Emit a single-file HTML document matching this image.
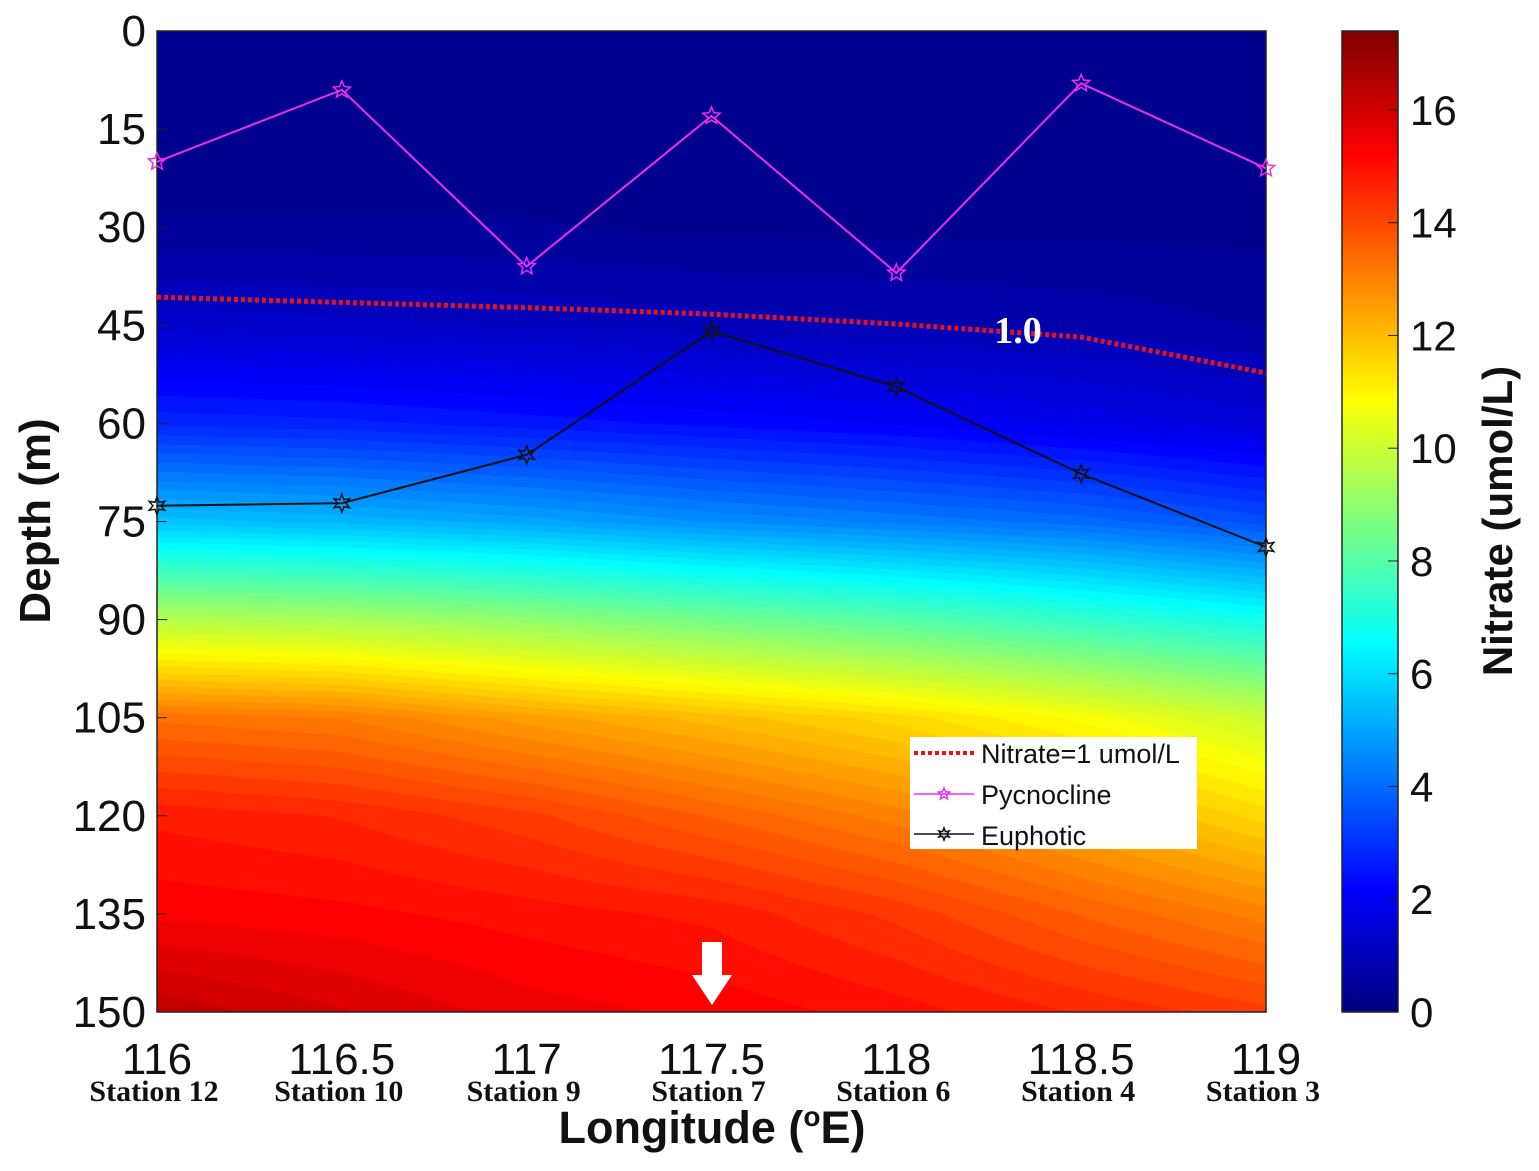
<!DOCTYPE html>
<html><head><meta charset="utf-8">
<style>
body{margin:0;background:#fff;width:1539px;height:1171px;overflow:hidden;position:relative;font-family:"Liberation Sans",sans-serif}
canvas{position:absolute}
</style></head><body>
<canvas id="field" width="1109" height="981" style="left:157px;top:31px"></canvas>
<canvas id="cbar" width="56" height="981" style="left:1342px;top:31px"></canvas>
<svg id="ov" width="1539" height="1171" style="position:absolute;left:0;top:0"></svg>
<script>
const lons=[116,116.5,117,117.5,118,118.5,119];
const depths=[0,15,30,45,60,75,90,105,120,135,150];
const n116=[0.2,0.2,0.4,1.3,2.8,5.5,9.6,13.3,14.8,15.3,16.3];
const n1165=[0.2,0.2,0.4,1.2,2.7,5.3,9.4,13.1,14.6,15.2,15.9];
const n117=[0.2,0.2,0.4,1.1,2.5,5.0,9.0,12.5,14.2,15.0,15.5];
const n1175=[0.2,0.2,0.3,1.0,2.3,4.6,8.5,12.0,13.6,14.8,15.3];
const n118=[0.2,0.2,0.3,0.9,2.1,4.3,8.0,11.5,13.0,14.3,15.0];
const n1185=[0.2,0.2,0.3,0.8,1.8,4.0,7.4,10.8,12.3,13.6,14.6];
const n119=[0.2,0.2,0.3,0.6,1.5,3.5,6.8,10.0,11.5,13.0,14.2];
const pycno=[20,9,36,13,37,8,21];
const eupho=[72.6,72.2,64.8,45.9,54.4,67.7,78.9];
const nit1=[40.7,41.5,42.3,43.3,44.8,46.8,52.3];
const yTicks=[0,15,30,45,60,75,90,105,120,135,150];
const xTicks=[116,116.5,117,117.5,118,118.5,119];
const stations=["Station 12","Station 10","Station 9","Station 7","Station 6","Station 4","Station 3"];
const cTicks=[0,2,4,6,8,10,12,14,16];
const grid=[n116,n1165,n117,n1175,n118,n1185,n119];
const X0=157,X1=1266,Y0=31,Y1=1012,VMAX=17.4;
const xs=v=>X0+(v-116)/3*(X1-X0);
const ys=d=>Y0+d/150*(Y1-Y0);
function jet(v){let t=Math.max(0,Math.min(1,v/VMAX));
 const f=x=>Math.max(0,Math.min(1,1.5-Math.abs(4*t-x)));
 return [f(3),f(2),f(1)].map(c=>Math.round(c*255));}
function interp(lon,d){let i=Math.min(5,Math.floor((lon-116)/0.5));let fx=(lon-116)/0.5-i;
 let j=Math.min(9,Math.floor(d/15));let fy=d/15-j;
 const a=grid[i][j]*(1-fx)+grid[i+1][j]*fx,b=grid[i][j+1]*(1-fx)+grid[i+1][j+1]*fx;
 return a*(1-fy)+b*fy;}
const fc=document.getElementById('field').getContext('2d');
const img=fc.createImageData(1109,981);
for(let py=0;py<981;py++){for(let px=0;px<1109;px++){
 const lon=116+px/1108*3,d=py/980*150;let v=interp(lon,d);v=Math.round(v*4)/4;
 const c=jet(v);const k=(py*1109+px)*4;img.data[k]=c[0];img.data[k+1]=c[1];img.data[k+2]=c[2];img.data[k+3]=255;}}
fc.putImageData(img,0,0);
const cc=document.getElementById('cbar').getContext('2d');
for(let py=0;py<981;py++){const v=(980-py)/980*VMAX;const c=jet(v);cc.fillStyle=`rgb(${c})`;cc.fillRect(0,py,56,1);}
const svg=document.getElementById('ov');const NS='http://www.w3.org/2000/svg';
function mk(tag,at,txt){const e=document.createElementNS(NS,tag);for(const k in at)e.setAttribute(k,at[k]);if(txt!=null)e.textContent=txt;svg.appendChild(e);return e;}
let e;
e=mk('rect',{x:X0,y:Y0,width:X1-X0,height:Y1-Y0,fill:'none',stroke:'#222','stroke-width':1.5});


e=mk('rect',{x:1342,y:31,width:56,height:981,fill:'none',stroke:'#222','stroke-width':1.5});


yTicks.forEach(d=>{
 e=mk('text',{x:146,y:ys(d)+15,'text-anchor':'end','font-size':44,fill:'#111','font-family':'Liberation Sans'},String(d));
 
 
 mk('line',{x1:X0,x2:X0+10,y1:ys(d),y2:ys(d),stroke:'#222'});
});
xTicks.forEach((v,i)=>{
 e=mk('text',{x:xs(v),y:1074,'text-anchor':'middle','font-size':44,fill:'#111','font-family':'Liberation Sans'},String(v));
 
 
 e=mk('text',{x:xs(v)-3,y:1101,'text-anchor':'middle','font-size':30,'font-weight':'bold',fill:'#111','font-family':'Liberation Serif'},stations[i]);
 
 
});
cTicks.forEach(v=>{const y=1012-v/VMAX*981;
 mk('line',{x1:1388,x2:1398,y1:y,y2:y,stroke:'#222'});
 e=mk('text',{x:1410,y:y+15,'font-size':42,fill:'#111','font-family':'Liberation Sans'},String(v));
 
 
});
e=mk('text',{x:712,y:1143,'text-anchor':'middle','font-size':45,'font-weight':'bold',fill:'#111','font-family':'Liberation Sans'});


const ts=['Longitude (','o','E)'];
const t1=mk('tspan',{},ts[0]);e.appendChild(t1);
const t2=mk('tspan',{'font-size':28,dy:-17},ts[1]);e.appendChild(t2);
const t3=mk('tspan',{dy:17},ts[2]);e.appendChild(t3);
e=mk('text',{x:50,y:521,'text-anchor':'middle','font-size':44,'font-weight':'bold',fill:'#111','font-family':'Liberation Sans',transform:'rotate(-90 50 521)'},'Depth (m)');


e=mk('text',{x:1512,y:521,'text-anchor':'middle','font-size':42,'font-weight':'bold',fill:'#111','font-family':'Liberation Sans',transform:'rotate(-90 1512 521)'},'Nitrate (umol/L)');


function star(cx,cy,r,n,col,name){let p=[];for(let k=0;k<2*n;k++){const a=-Math.PI/2+k*Math.PI/n;const rr=k%2?r*0.45:r;p.push((cx+rr*Math.cos(a)).toFixed(1)+','+(cy+rr*Math.sin(a)).toFixed(1));}
 const s=mk('polygon',{points:p.join(' '),fill:'none',stroke:col,'stroke-width':1.5});
 
 }
e=mk('polyline',{points:lons.map((v,i)=>xs(v)+','+ys(nit1[i])).join(' '),fill:'none',stroke:'#e8121b','stroke-width':5,'stroke-dasharray':'4 3'});


e=mk('text',{x:1018,y:343,'text-anchor':'middle','font-size':38,'font-weight':'bold',fill:'#fff','font-family':'Liberation Serif'},'1.0');


e=mk('polyline',{points:lons.map((v,i)=>xs(v)+','+ys(pycno[i])).join(' '),fill:'none',stroke:'#ee2ee8','stroke-width':2});


lons.forEach((v,i)=>star(xs(v),ys(pycno[i]),9,5,'#ee2ee8','pycnocline-point'));
e=mk('polyline',{points:lons.map((v,i)=>xs(v)+','+ys(eupho[i])).join(' '),fill:'none',stroke:'#111','stroke-width':2});


lons.forEach((v,i)=>star(xs(v),ys(eupho[i]),9,6,'#111','euphotic-point'));
e=mk('polygon',{points:'702,942 722,942 722,975 732,975 712,1005 692,975 702,975',fill:'#fff'});


e=mk('rect',{x:910,y:737,width:287,height:112,fill:'#fff'});


mk('line',{x1:914,x2:974,y1:753,y2:753,stroke:'#e8121b','stroke-width':4,'stroke-dasharray':'4 3'});
mk('line',{x1:914,x2:974,y1:794,y2:794,stroke:'#ee2ee8','stroke-width':1.5});
star(944,794,6,5,'#ee2ee8','legend-pycnocline-marker');
mk('line',{x1:914,x2:974,y1:834,y2:834,stroke:'#111','stroke-width':1.5});
star(944,834,6,6,'#111','legend-euphotic-marker');
[['Nitrate=1 umol/L',763],['Pycnocline',804],['Euphotic',845]].forEach(a=>{
 e=mk('text',{x:981,y:a[1],'font-size':27,fill:'#111','font-family':'Liberation Sans'},a[0]);
 
 
});
</script>
</body></html>
